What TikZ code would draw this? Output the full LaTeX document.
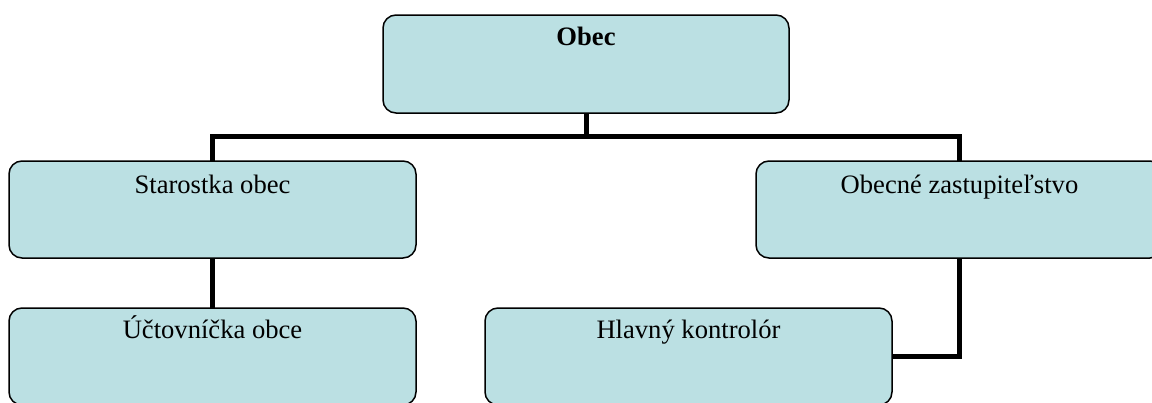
\documentclass[tikz,border=0pt]{standalone}
\usepackage{fontspec}
\setmainfont{Liberation Serif}
\definecolor{boxfill}{HTML}{BBE0E3}
\begin{document}
\begin{tikzpicture}[x=1pt,y=-1pt,
  box/.style={draw=black, line width=1.5pt, fill=boxfill, rounded corners=13pt,
    anchor=north west, inner sep=0pt, outer sep=0pt, minimum width=407pt, minimum height=97pt},
  lbl/.style={anchor=base, inner sep=0pt, font=\fontsize{26.6}{30}\selectfont},
  conn/.style={draw=black, line width=5pt}]
\useasboundingbox (0,0) rectangle (1152,402);
\clip (0,0) rectangle (1152,402);
\node[box, minimum width=406pt, minimum height=98pt] (obec) at (383,15) {};
\node[box] (staro) at (9,161) {};
\node[box] (zast) at (756,161) {};
\node[box] (uct) at (9,308) {};
\node[box] (hlav) at (485,308) {};
\coordinate (bus) at (586,136.5);
\draw[conn] (obec.south) -- (bus);
\draw[conn] (staro.north) |- (bus) -| (zast.north);
\draw[conn] (staro.south) -- (uct.north);
\draw[conn] (zast.south) |- (hlav.east);
\node[lbl, font=\fontsize{26.6}{30}\selectfont\bfseries] (tobec) at ([yshift=-30pt]obec.north) {Obec};
\node[lbl] (tstaro) at ([yshift=-32pt]staro.north) {Starostka obec};
\node[lbl] (tzast) at ([yshift=-32pt]zast.north) {Obecné zastupiteľstvo};
\node[lbl] (tuct) at ([yshift=-30pt]uct.north) {Účtovníčka obce};
\node[lbl] (thlav) at ([yshift=-30pt]hlav.north) {Hlavný kontrolór};
\end{tikzpicture}
\end{document}
